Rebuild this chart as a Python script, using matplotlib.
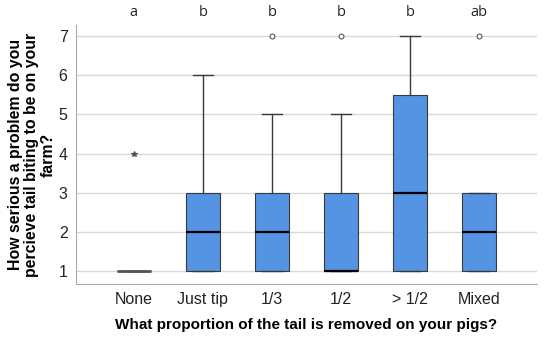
import matplotlib.pyplot as plt

plt.rcParams['font.family'] = ['Liberation Sans', 'DejaVu Sans']

categories = ['None', 'Just tip', '1/3', '1/2', '> 1/2', 'Mixed']
q1 = [1, 1, 1, 1, 1, 1]
medians = [1, 2, 2, 1, 3, 2]
q3 = [1, 3, 3, 3, 5.5, 3]
whisker_low = [1, 1, 1, 1, 1, 1]
whisker_high = [1, 6, 5, 5, 7, 3]
outliers = [[4], [], [7], [7], [], [7]]
letters = ['a', 'b', 'b', 'b', 'b', 'ab']

stats = []
for i, name in enumerate(categories):
    stats.append({'label': name, 'med': medians[i], 'q1': q1[i], 'q3': q3[i],
                  'whislo': whisker_low[i], 'whishi': whisker_high[i],
                  'fliers': outliers[i]})

fig = plt.figure(figsize=(5.5, 3.43), dpi=100)
ax = fig.add_axes([0.138, 0.172, 0.838, 0.755])

# grid first so boxes sit on top
ax.set_axisbelow(True)
ax.yaxis.grid(True, color='#d9d9d9', linewidth=1)

positions = list(range(len(categories)))
parts = ax.bxp(stats, positions=positions, widths=0.5, capwidths=0.28,
               patch_artist=True, showfliers=True,
               boxprops=dict(facecolor='#5594e3', edgecolor='#3a3a3a', linewidth=0.8),
               medianprops=dict(color='black', linewidth=1.6),
               whiskerprops=dict(color='#3a3a3a', linewidth=1),
               capprops=dict(color='#3a3a3a', linewidth=1),
               flierprops=dict(marker='o', markersize=3.5, markerfacecolor='white',
                               markeredgecolor='#555555', markeredgewidth=0.8))

# first group: box collapses to a line, outlier drawn as a star
parts['medians'][0].set_color('#555555')
parts['medians'][0].set_linewidth(2)
parts['fliers'][0].set_marker('*')
parts['fliers'][0].set_markerfacecolor('#444444')
parts['fliers'][0].set_markersize(4)

ax.set_xlim(-0.84, 5.84)
ax.set_ylim(0.67, 7.28)
ax.set_yticks([1, 2, 3, 4, 5, 6, 7])
ax.set_xticks(positions)
ax.set_xticklabels(categories)
ax.tick_params(axis='both', length=0, labelsize=11.5, colors='#222222', pad=6)

for s in ['top', 'right']:
    ax.spines[s].set_visible(False)
ax.spines['left'].set_color('#aaaaaa')
ax.spines['bottom'].set_color('#aaaaaa')

for i, t in enumerate(letters):
    ax.text(positions[i], 7.6, t, ha='center', va='center', fontsize=10.5,
            color='#222222', family='Open Sans')

ax.set_xlabel('What proportion of the tail is removed on your pigs?',
              fontsize=11, fontweight='bold', labelpad=8)
ax.set_ylabel('How serious a problem do you\npercieve tail biting to be on your\nfarm?',
              fontsize=11.4, fontweight='bold', linespacing=1.12, labelpad=2)

fig.savefig('out.png', dpi=100)
